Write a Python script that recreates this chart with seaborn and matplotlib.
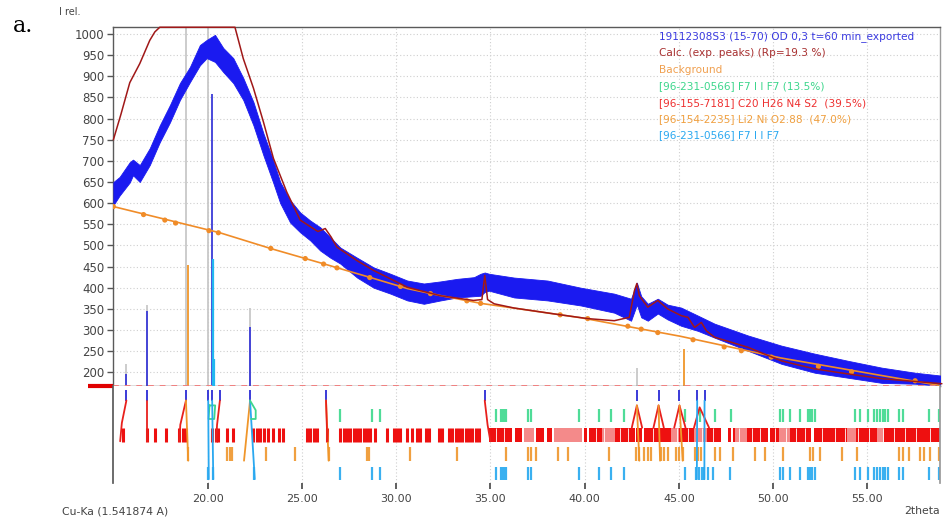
import matplotlib
matplotlib.use("Agg")
import matplotlib.pyplot as plt
import seaborn as sns

# ---------------- measured pattern (2theta, intensity band) ----------------
obs_tt = [15.0, 15.33, 15.87, 16.04, 16.4, 16.93, 17.46, 18.0, 18.53, 19.06, 19.59,
          19.95, 20.39, 20.83, 21.36, 21.89, 22.43, 22.96, 23.49, 23.85, 24.38, 24.91,
          25.44, 25.97, 26.51, 27.04, 27.93, 28.81, 29.70, 30.59, 31.47, 32.36, 33.24,
          34.13, 34.48, 34.70, 34.93, 36.26, 38.03, 39.80, 41.57, 42.46, 42.77, 43.0,
          43.35, 43.88, 44.4, 45.12, 46.01, 46.89, 48.67, 50.44, 52.21, 53.99, 55.76,
          57.53, 58.95]
obs_lo = [595, 618, 649, 666, 650, 690, 744, 791, 844, 886, 926,
          943, 934, 910, 884, 844, 784, 713, 647, 600, 554, 531,
          512, 488, 471, 457, 424, 400, 386, 370, 362, 370, 377,
          380, 381, 390, 393, 377, 370, 358, 341, 322, 360, 330,
          322, 339, 325, 310, 298, 282, 251, 220, 199, 187, 175,
          173, 168]
obs_hi = [650, 662, 697, 703, 690, 730, 784, 832, 884, 922, 974,
          986, 998, 967, 943, 896, 839, 765, 700, 650, 607, 578,
          559, 543, 519, 495, 471, 448, 433, 417, 410, 415, 421,
          425, 433, 436, 433, 424, 417, 400, 386, 374, 412, 380,
          362, 374, 360, 353, 334, 315, 287, 263, 244, 227, 211,
          199, 192]

# calculated profile (runs along the top frame where it is off scale)
calc_tt = [15.0, 15.4, 15.87, 16.4, 16.93, 17.2, 17.46, 21.45, 21.89, 22.43, 22.96,
           23.49, 24.2, 24.91, 25.53, 25.85, 26.24, 26.55, 26.86, 27.93, 28.8, 30.6,
           32.36, 34.1, 34.55, 34.7, 34.85, 35.2, 36.26, 38.7, 40.16, 41.57, 42.37,
           42.64, 42.77, 42.9, 43.35, 43.88, 44.4, 45.12, 45.48, 45.83, 46.19, 46.46,
           46.89, 48.67, 50.44, 52.21, 53.99, 55.76, 58.95]
calc_i = [750, 810, 885, 930, 985, 1005, 1016, 1016, 942, 872, 792,
          706, 626, 560, 542, 533, 540, 520, 496, 464, 441, 401,
          381, 370, 372, 429, 372, 362, 352, 336, 327, 322, 330,
          393, 410, 381, 354, 370, 350, 334, 330, 306, 318, 298,
          283, 259, 227, 208, 196, 185, 173]

# background curve and its anchor points
bg_tt = [15.0, 20.65, 23.4, 26.2, 28.8, 30.6, 32.4, 34.5, 39.8, 45.1, 50.4, 55.8, 58.95]
bg_i = [592, 530, 492, 456, 422, 398, 381, 363, 329, 285, 234, 192, 168]
bgpt_tt = [15.0, 16.6, 17.73, 18.3, 20.07, 20.57, 23.35, 25.18, 26.15, 26.86, 28.6,
           30.23, 31.82, 33.75, 34.48, 38.7, 40.16, 42.29, 43.0, 43.88, 45.75, 47.4,
           48.31, 49.9, 52.4, 54.16, 57.53]
bgpt_i = [592, 573, 560, 553, 535, 530, 493, 469, 456, 447, 424,
          403, 386, 369, 363, 336, 327, 309, 302, 294, 277, 260,
          251, 236, 214, 201, 180]

# peak sticks in the intensity panel
pk_blue_tt = [15.69, 16.76, 20.25, 22.25]
pk_blue_i = [197, 346, 859, 306]
pk_grey_tt = [15.69, 16.76, 18.85, 20.03, 22.25, 42.77]
pk_grey_i = [220, 360, 1016, 1016, 353, 211]
pk_orange_tt = [18.94, 45.27]
pk_orange_i = [453, 256]
pk_cyan_tt = [20.30, 20.34]
pk_cyan_i = [467, 232]

# observed peak markers (top of the reference panel)
mark_tt = [15.69, 16.76, 18.85, 20.03, 20.24, 20.65, 22.25, 26.28, 34.70,
           42.77, 43.92, 45.03, 45.97, 46.36]

# phase reference lines
ph_green = [27.0, 28.72, 29.13, 35.3, 35.55, 35.65, 35.75, 35.85, 37.0, 37.15, 39.7,
            40.78, 41.4, 42.1, 45.33, 46.1, 46.9, 47.78, 50.35, 50.5, 50.88, 51.4,
            51.85, 51.95, 52.05, 52.2, 54.35, 54.6, 55.05, 55.35, 55.5, 55.65, 55.8,
            55.95, 56.1, 56.65, 56.9, 58.25, 58.78]
ph_cyan = [20.0, 20.3, 22.48, 27.0, 28.72, 29.13, 35.3, 35.55, 35.65, 35.75, 35.85,
           37.0, 37.15, 39.7, 40.78, 41.4, 42.1, 45.3, 45.93, 46.05, 46.2, 46.35,
           46.54, 46.81, 47.69, 50.35, 50.5, 50.88, 51.4, 51.85, 51.95, 52.05, 52.2,
           54.35, 54.6, 55.05, 55.35, 55.5, 55.65, 55.8, 55.95, 56.1, 56.65, 56.9,
           58.25, 58.78]
ph_red = [15.51, 16.79, 17.23, 17.78, 18.49, 18.70, 18.85, 20.21, 20.44, 20.57, 21.01,
          21.33, 22.39, 22.60, 22.78, 22.99, 23.22, 23.49, 23.76, 23.99, 25.27, 25.44,
          25.62, 25.80, 26.33, 27.04, 27.21, 27.39, 27.57, 27.74, 27.93, 28.10, 28.28,
          28.46, 28.63, 28.90, 29.52, 29.87, 30.05, 30.23, 30.59, 30.85, 31.12, 31.29,
          31.56, 31.73, 32.27, 32.45, 32.80, 32.98, 33.15, 33.33, 33.51, 33.69, 33.86,
          34.04, 34.22, 34.39]
ph_red_bands = [(34.93, 36.15), (36.28, 36.70), (37.40, 37.85), (38.00, 38.25),
                (39.95, 40.15), (40.25, 42.65), (42.75, 43.05), (43.15, 47.25),
                (47.60, 47.75), (47.85, 49.72), (49.85, 52.02), (52.15, 58.86)]
ph_red_weak = [(36.80, 37.30), (38.35, 39.85), (40.90, 41.60), (44.60, 45.00),
               (45.80, 46.50), (48.00, 48.60), (50.30, 50.90), (53.90, 54.40),
               (55.50, 55.90)]
ph_red_gaps = [35.3, 35.7, 40.6, 41.0, 41.9, 42.3, 43.6, 44.9, 45.5, 46.2, 46.8, 48.2,
               48.9, 49.3, 50.1, 50.7, 51.2, 51.7, 52.6, 53.3, 53.8, 54.5, 55.1, 55.8,
               56.4, 57.0, 57.6, 58.3]
ph_orange = [18.97, 21.01, 21.19, 21.31, 23.08, 24.61, 26.42, 28.46, 28.54, 30.76,
             33.24, 35.81, 36.97, 37.14, 37.41, 38.56, 39.13, 41.31, 42.73, 42.90,
             43.17, 43.35, 43.53, 44.06, 44.23, 44.41, 44.86, 45.03, 45.21, 45.83,
             46.01, 46.19, 46.89, 47.16, 47.87, 49.02, 49.55, 50.53, 51.95, 52.13,
             52.48, 53.63, 54.43, 56.65, 56.91, 57.18, 57.80, 57.98, 58.33, 58.78]

# links from observed peaks down to the matched phase lines
links = [
    ("#e8201c", [(15.69, 0.85), (15.45, 0.62), (15.36, 0.43)]),
    ("#e8201c", [(16.76, 0.85), (16.76, 0.43)]),
    ("#e8201c", [(18.85, 0.85), (18.55, 0.60), (18.50, 0.43)]),
    ("#f0962a", [(18.85, 0.85), (18.97, 0.23)]),
    ("#3dd68c", [(20.10, 0.80), (20.05, 0.66), (20.35, 0.66), (20.40, 0.80), (20.10, 0.80)]),
    ("#2aa8f0", [(20.03, 0.85), (20.06, 0.04)]),
    ("#2aa8f0", [(20.24, 0.85), (20.30, 0.04)]),
    ("#e8201c", [(20.65, 0.85), (20.50, 0.60), (20.45, 0.43)]),
    ("#f0962a", [(22.25, 0.85), (21.93, 0.23)]),
    ("#2aa8f0", [(22.25, 0.85), (22.50, 0.04)]),
    ("#3dd68c", [(22.25, 0.85), (22.55, 0.75), (22.55, 0.66), (22.30, 0.66)]),
    ("#f0962a", [(26.28, 0.85), (26.42, 0.23)]),
    ("#e8201c", [(26.28, 0.85), (26.35, 0.43)]),
    ("#e8201c", [(34.70, 0.85), (34.85, 0.60), (35.00, 0.43)]),
    ("#e8201c", [(42.50, 0.57), (42.77, 0.80), (43.05, 0.57)]),
    ("#f0962a", [(42.77, 0.80), (42.90, 0.23)]),
    ("#e8201c", [(43.65, 0.57), (43.92, 0.80), (44.20, 0.57)]),
    ("#f0962a", [(43.92, 0.80), (44.00, 0.23)]),
    ("#e8201c", [(44.75, 0.57), (45.03, 0.80), (45.35, 0.57)]),
    ("#f0962a", [(45.03, 0.80), (45.20, 0.23)]),
    ("#e8201c", [(45.80, 0.57), (46.10, 0.78), (46.60, 0.57)]),
    ("#2aa8f0", [(45.97, 0.85), (45.95, 0.04)]),
    ("#2aa8f0", [(46.36, 0.85), (46.35, 0.04)]),
]

legend_lines = [
    ("19112308S3 (15-70) OD 0,3 t=60 min_exported", "#3a3ae0"),
    ("Calc. (exp. peaks) (Rp=19.3 %)", "#a83030"),
    ("Background", "#f0a050"),
    ("[96-231-0566] F7 I I F7 (13.5%)", "#3dd68c"),
    ("[96-155-7181] C20 H26 N4 S2  (39.5%)", "#ee3030"),
    ("[96-154-2235] Li2 Ni O2.88  (47.0%)", "#f0a040"),
    ("[96-231-0566] F7 I I F7", "#2aa8f0"),
]

y_ticks = list(range(200, 1001, 50))
x_ticks = [20, 25, 30, 35, 40, 45, 50, 55]

# ---------------- figure ----------------
sns.set_theme(style="white")
plt.rcParams["font.family"] = ["DejaVu Sans"]

W, H = 945, 521
fig = plt.figure(figsize=(W / 100, H / 100), dpi=100)
ax = fig.add_axes([113 / W, 1 - 386 / H, 827 / W, 359 / H])
axb = fig.add_axes([113 / W, 1 - 483 / H, 827 / W, 97 / H], sharex=ax)

XMIN, XMAX = 14.98, 58.85
YMIN, YMAX = 167.6, 1016.6
ax.set_xlim(XMIN, XMAX)
ax.set_ylim(YMIN, YMAX)
axb.set_ylim(0, 1)

grid_kw = dict(color="#cfcfcf", lw=0.8, ls=(0, (1, 2)))
for yt in y_ticks:
    ax.axhline(yt, zorder=0, **grid_kw)
for xt in x_ticks:
    ax.axvline(xt, zorder=0, **grid_kw)
    axb.axvline(xt, zorder=0, **grid_kw)

# peak sticks
ax.vlines(pk_grey_tt, YMIN, pk_grey_i, color="#c8c8c8", lw=1.3, zorder=1)
ax.vlines(pk_orange_tt, YMIN, pk_orange_i, color="#f0962a", lw=1.3, zorder=2)
ax.vlines(pk_blue_tt, YMIN, pk_blue_i, color="#3a3ad8", lw=1.3, zorder=2)
ax.vlines(pk_cyan_tt, YMIN, pk_cyan_i, color="#22b8f0", lw=1.6, zorder=3)

# measured pattern
ax.fill_between(obs_tt, obs_lo, obs_hi, color="#1a1af0", lw=0.6,
                edgecolor="#1a1af0", zorder=4)

# background and calculated curves
sns.lineplot(x=bg_tt, y=bg_i, ax=ax, color="#f08c28", lw=1.2, sort=False,
             estimator=None, zorder=5)
sns.scatterplot(x=bgpt_tt, y=bgpt_i, ax=ax, color="#f08c28", s=14,
                edgecolor="none", zorder=6)
sns.lineplot(x=calc_tt, y=calc_i, ax=ax, color="#a01818", lw=1.1, sort=False,
             estimator=None, zorder=7)
for ln in ax.lines[-1:]:
    ln.set_clip_on(False)

# baseline between panels
ax.plot([-0.03, 0], [0, 0], transform=ax.transAxes, color="#e00000", lw=3,
        clip_on=False, solid_capstyle="butt", zorder=8)
ax.axhline(YMIN + 0.5, color="#f08080", lw=1.4, ls=(0, (3, 3)), zorder=8)

ax.set_yticks(y_ticks)
ax.set_yticklabels([str(v) for v in y_ticks], fontsize=8.5, color="#444444")
ax.tick_params(axis="y", which="both", left=True, length=4, width=1,
               color="#555555", pad=2)
ax.tick_params(axis="x", bottom=False, labelbottom=False)
for s in ["left", "top", "right", "bottom"]:
    ax.spines[s].set_color("#5a5a5a")
    ax.spines[s].set_linewidth(1.0)
ax.spines["right"].set_color("#9a9a9a")
ax.set_xlabel("")
ax.set_ylabel("")

# ---------------- reference lines panel ----------------
ROW_G = (0.63, 0.765)
ROW_R = (0.423, 0.567)
ROW_O = (0.227, 0.371)
ROW_C = (0.031, 0.165)

axb.vlines(mark_tt, 0.845, 0.96, color="#3a3ad8", lw=1.4, zorder=3)
axb.vlines(ph_green, *ROW_G, color="#4fdc98", lw=1.6)
axb.vlines(ph_cyan, *ROW_C, color="#3ab0f0", lw=1.6)
axb.vlines(ph_orange, *ROW_O, color="#f0a040", lw=1.6)
axb.vlines(ph_red, *ROW_R, color="#ee1010", lw=2.2)
axb.broken_barh([(a, b - a) for a, b in ph_red_bands], (ROW_R[0], ROW_R[1] - ROW_R[0]),
                facecolors="#ee1010", edgecolor="none")
axb.broken_barh([(a, b - a) for a, b in ph_red_weak], (ROW_R[0], ROW_R[1] - ROW_R[0]),
                facecolors="#f48a8a", edgecolor="none")
axb.vlines(ph_red_gaps, *ROW_R, color="white", lw=0.6)

for col, pts in links:
    xs = [p[0] for p in pts]
    ys = [p[1] for p in pts]
    axb.plot(xs, ys, color=col, lw=1.3, zorder=4)

axb.set_xticks(x_ticks)
axb.set_xticklabels([f"{v:.2f}" for v in x_ticks], fontsize=8, color="#444444")
axb.set_yticks([])
axb.tick_params(axis="x", bottom=True, length=4, width=1.2, color="#444444", pad=4)
axb.spines["top"].set_visible(False)
axb.spines["bottom"].set_visible(False)
axb.spines["left"].set_color("#5a5a5a")
axb.spines["right"].set_color("#9a9a9a")
axb.set_xlim(XMIN, XMAX)

# ---------------- text ----------------
for k, (txt, col) in enumerate(legend_lines):
    fig.text(659 / W, 1 - (37 + 16.4 * k) / H, txt, fontsize=7.6, color=col,
             ha="left", va="center")

fig.text(59 / W, 1 - 12 / H, "I rel.", fontsize=7, color="#444444",
         ha="left", va="center")
fig.text(13 / W, 1 - 26 / H, "a.", fontsize=16, color="black",
         family=["DejaVu Serif"], ha="left", va="center")
fig.text(62 / W, 1 - 511 / H, "Cu-Ka (1.541874 A)", fontsize=7.8, color="#444444",
         ha="left", va="center")
fig.text(940 / W, 1 - 511 / H, "2theta", fontsize=7.8, color="#444444",
         ha="right", va="center")

fig.savefig("out.png", dpi=100, facecolor="white")
